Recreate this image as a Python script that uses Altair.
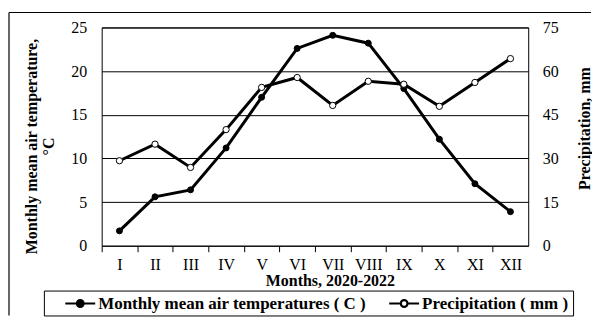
import altair as alt
import pandas as pd

months = ["I", "II", "III", "IV", "V", "VI", "VII", "VIII", "IX", "X", "XI", "XII"]
temperature = [1.7, 5.6, 6.4, 11.2, 17.0, 22.6, 24.1, 23.2, 18.0, 12.2, 7.1, 3.9]
precipitation = [29.2, 34.9, 26.9, 39.9, 54.4, 57.8, 48.2, 56.5, 55.5, 47.9, 56.1, 64.3]
temp_name = "Monthly mean air temperatures ( C )"
prec_name = "Precipitation ( mm )"

df = pd.DataFrame({"month": months, "temp": temperature, "prec": precipitation})

FONT = "Liberation Serif"
W, H = 428, 219
step = W / len(months)

x_enc = alt.X(
    "month:N", sort=months,
    scale=alt.Scale(type="point", padding=0.5),
    axis=alt.Axis(
        title="Months, 2020-2022", titleFont=FONT, titleFontSize=16, titleFontWeight="bold",
        titleColor="black", titlePadding=0, titleX=229,
        labelFont=FONT, labelFontSize=16, labelColor="black", labelAngle=0,
        labelPadding=5, ticks=True, tickColor="black", tickSize=6,
        tickOffset=-step / 2, labelOffset=step / 2, domain=False, grid=False,
    ),
)

fill_scale = alt.Scale(domain=[temp_name, prec_name], range=["black", "white"])
sym_path = ("M-2,0L-0.45,0M0.45,0L2,0M-0.45,0A0.45,0.45,0,1,0,0.45,0"
            "A0.45,0.45,0,1,0,-0.45,0Z")
legend = alt.Legend(
    title=" ", titleOrient="left", titlePadding=16, titleFontSize=4,
    orient="none", legendX=-58, legendY=264, direction="horizontal",
    symbolType=sym_path, symbolSize=225, symbolOffset=7.5, symbolStrokeColor="black",
    symbolStrokeWidth=2.2, labelFont=FONT, labelFontSize=17, labelFontWeight="bold",
    labelColor="black", labelOffset=9, columnPadding=18, padding=4,
    strokeColor="black", labelLimit=400,
)

y_temp = alt.Y(
    "temp:Q", scale=alt.Scale(domain=[0, 25]),
    axis=alt.Axis(
        values=[0, 5, 10, 15, 20, 25], orient="left",
        title=["Monthly mean air temperature,", "°C"], titleFont=FONT, titleFontSize=16,
        titleFontWeight="bold", titleColor="black", titlePadding=14, titleY=119,
        titleLineHeight=17,
        labelFont=FONT, labelFontSize=16, labelColor="black", labelPadding=15,
        ticks=False, domain=False, grid=True, gridColor="black", gridWidth=1,
        gridOpacity=1,
    ),
)
y_prec = alt.Y(
    "prec:Q", scale=alt.Scale(domain=[0, 75]),
    axis=alt.Axis(
        values=[0, 15, 30, 45, 60, 75], orient="right",
        title="Precipitation,  mm", titleFont=FONT, titleFontSize=16,
        titleFontWeight="bold", titleColor="black", titlePadding=18, titleAngle=270,
        titleBaseline="top", titleY=101,
        labelFont=FONT, labelFontSize=16, labelColor="black", labelPadding=14,
        ticks=False, domain=False, grid=False,
    ),
)

base = alt.Chart(df)
temp_layer = alt.layer(
    base.mark_line(color="black", strokeWidth=3).encode(x=x_enc, y=y_temp),
    base.transform_calculate(series=f"'{temp_name}'").mark_point(
        filled=True, size=36, stroke="black", strokeWidth=1, opacity=1
    ).encode(x=x_enc, y=y_temp,
             fill=alt.Fill("series:N", scale=fill_scale, legend=legend)),
)
prec_layer = alt.layer(
    base.mark_line(color="black", strokeWidth=3).encode(x=x_enc, y=y_prec),
    base.transform_calculate(series=f"'{prec_name}'").mark_point(
        filled=True, size=40, stroke="black", strokeWidth=1, opacity=1
    ).encode(x=x_enc, y=y_prec,
             fill=alt.Fill("series:N", scale=fill_scale, legend=legend)),
)

one = alt.Data(values=[{}])
frame_top = alt.Chart(one).mark_rule(color="black", strokeWidth=1.2).encode(
    x=alt.value(-93), x2=alt.value(491), y=alt.value(-15))
frame_left = alt.Chart(one).mark_rule(color="black", strokeWidth=1.2).encode(
    x=alt.value(-93), y=alt.value(-15), y2=alt.value(289))

chart = alt.layer(frame_top, frame_left, temp_layer, prec_layer).resolve_scale(
    y="independent"
).properties(
    width=W, height=H, padding={"left": 0, "top": 3, "right": 0, "bottom": 0}
).configure_view(stroke="black", strokeWidth=1)

chart.save("out.html", embed_options={"renderer": "svg", "actions": False})
